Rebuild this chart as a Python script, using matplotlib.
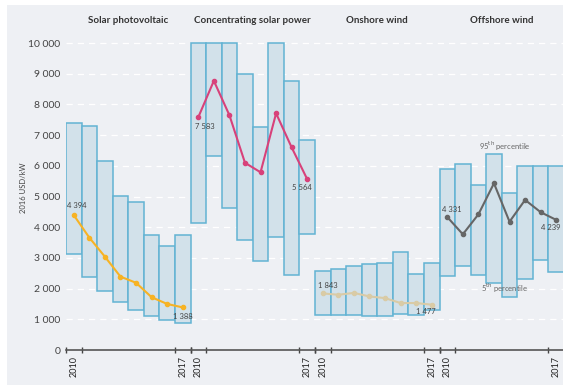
import matplotlib.pyplot as plt
from matplotlib.patches import Rectangle

plt.rcParams['font.family'] = ['Lato', 'DejaVu Sans']

# Installed cost ranges (5th / 95th percentile) and weighted averages, 2016 USD/kW
years = list(range(2010, 2018))
techs = ["Solar photovoltaic", "Concentrating solar power", "Onshore wind", "Offshore wind"]

pv_p95 = [7400, 7300, 6150, 5030, 4820, 3750, 3400, 3750]
pv_p5 = [3130, 2390, 1920, 1570, 1300, 1120, 980, 870]
pv_avg = [4394, 3660, 3040, 2390, 2190, 1720, 1500, 1388]

csp_p95 = [10000, 10000, 10000, 9000, 7250, 10000, 8770, 6840]
csp_p5 = [4130, 6330, 4640, 3580, 2910, 3670, 2440, 3770]
csp_avg = [7583, 8770, 7650, 6100, 5790, 7710, 6600, 5564]

on_p95 = [2580, 2640, 2750, 2800, 2840, 3200, 2480, 2830]
on_p5 = [1140, 1140, 1140, 1110, 1110, 1160, 1140, 1300]
on_avg = [1843, 1800, 1860, 1745, 1690, 1530, 1530, 1477]

off_p95 = [5900, 6060, 5360, 6370, 5130, 5990, 5990, 5990]
off_p5 = [2420, 2740, 2440, 2190, 1740, 2310, 2930, 2530]
off_avg = [4331, 3770, 4420, 5430, 4180, 4890, 4490, 4239]

p95 = [pv_p95, csp_p95, on_p95, off_p95]
p5 = [pv_p5, csp_p5, on_p5, off_p5]
avg = [pv_avg, csp_avg, on_avg, off_avg]
line_colors = ['#f7b324', '#d8417a', '#d9cba6', '#666666']

bg = '#eef0f4'
bar_fill = '#d2e1ea'
bar_edge = '#62b3d3'
text_col = '#444444'

fig = plt.figure(figsize=(5.63, 3.85), dpi=100)
fig.patches.append(Rectangle((7 / 563, 0), 1, 1 - 5 / 385, transform=fig.transFigure,
                             facecolor=bg, edgecolor='none', zorder=-10))

ax = fig.add_axes([66 / 563, 35 / 385, 498 / 563, 310 / 385])
ax.set_facecolor('none')
n = len(years)

for g in range(len(techs)):
    xs = [g * n + i for i in range(n)]
    heights = [t - b for t, b in zip(p95[g], p5[g])]
    ax.bar(xs, heights, bottom=p5[g], width=1, color=bar_fill, edgecolor=bar_edge,
           linewidth=1.1, zorder=2)
    ax.plot(xs, avg[g], color=line_colors[g], marker='o', ms=3, lw=1.5, zorder=3)
    ax.text(g * n + 3.5, 10750, techs[g], ha='center', va='center', fontsize=7,
            fontweight='bold', color='#333333')

# first / last value labels
def fmt(v):
    return f"{v:,}".replace(",", " ")

lab = dict(fontsize=5.5, color=text_col, zorder=4)
ax.text(0.2, pv_avg[0] + 200, fmt(pv_avg[0]), ha='center', va='bottom', **lab)
ax.text(7, pv_avg[-1] - 180, fmt(pv_avg[-1]), ha='center', va='top', **lab)
ax.text(8.4, csp_avg[0] - 180, fmt(csp_avg[0]), ha='center', va='top', **lab)
ax.text(14.65, csp_avg[-1] - 150, fmt(csp_avg[-1]), ha='center', va='top', **lab)
ax.text(16.3, on_avg[0] + 160, fmt(on_avg[0]), ha='center', va='bottom', **lab)
ax.text(22.6, on_avg[-1] - 120, fmt(on_avg[-1]), ha='center', va='top', **lab)
ax.text(24.3, off_avg[0] + 130, fmt(off_avg[0]), ha='center', va='bottom', **lab)
ax.text(30.65, off_avg[-1] - 130, fmt(off_avg[-1]), ha='center', va='top', **lab)

ax.text(27.7, 6640, "95$^{\\rm th}$ percentile", ha='center', va='center', fontsize=5.5, color='#666666')
ax.text(27.7, 2020, "5$^{\\rm th}$ percentile", ha='center', va='center', fontsize=5.5, color='#666666')

ax.set_xlim(-0.5, 4 * n - 0.5)
ax.set_ylim(0, 10100)

yt = list(range(0, 10001, 1000))
ax.set_yticks(yt, [fmt(v) for v in yt])
ax.tick_params(axis='y', length=0, pad=4, labelsize=7.5, labelcolor=text_col)
ax.grid(axis='y', color='white', linestyle=(0, (5, 4)), linewidth=0.9, zorder=0)

centers, labels, edges = [], [], []
for g in range(len(techs)):
    centers += [g * n, g * n + n - 1]
    labels += [str(years[0]), str(years[-1])]
    edges += [g * n - 0.5, g * n + 0.5, g * n + n - 1.5, g * n + n - 0.5]
ax.set_xticks(centers, labels, rotation=90)
ax.set_xticks(edges, minor=True)
ax.tick_params(axis='x', which='major', length=0, pad=4, labelsize=6.5, labelcolor='#222222')
ax.tick_params(axis='x', which='minor', length=4, width=1, color='#444444', direction='inout')

for s in ['left', 'right', 'top']:
    ax.spines[s].set_visible(False)
ax.spines['bottom'].set_color('#555555')
ax.spines['bottom'].set_linewidth(1.2)

fig.text(23 / 563, 1 - 188 / 385, "2016 USD/kW", rotation=90, ha='center', va='center',
         fontsize=5.5, color=text_col)

fig.savefig('out.png', dpi=100)
